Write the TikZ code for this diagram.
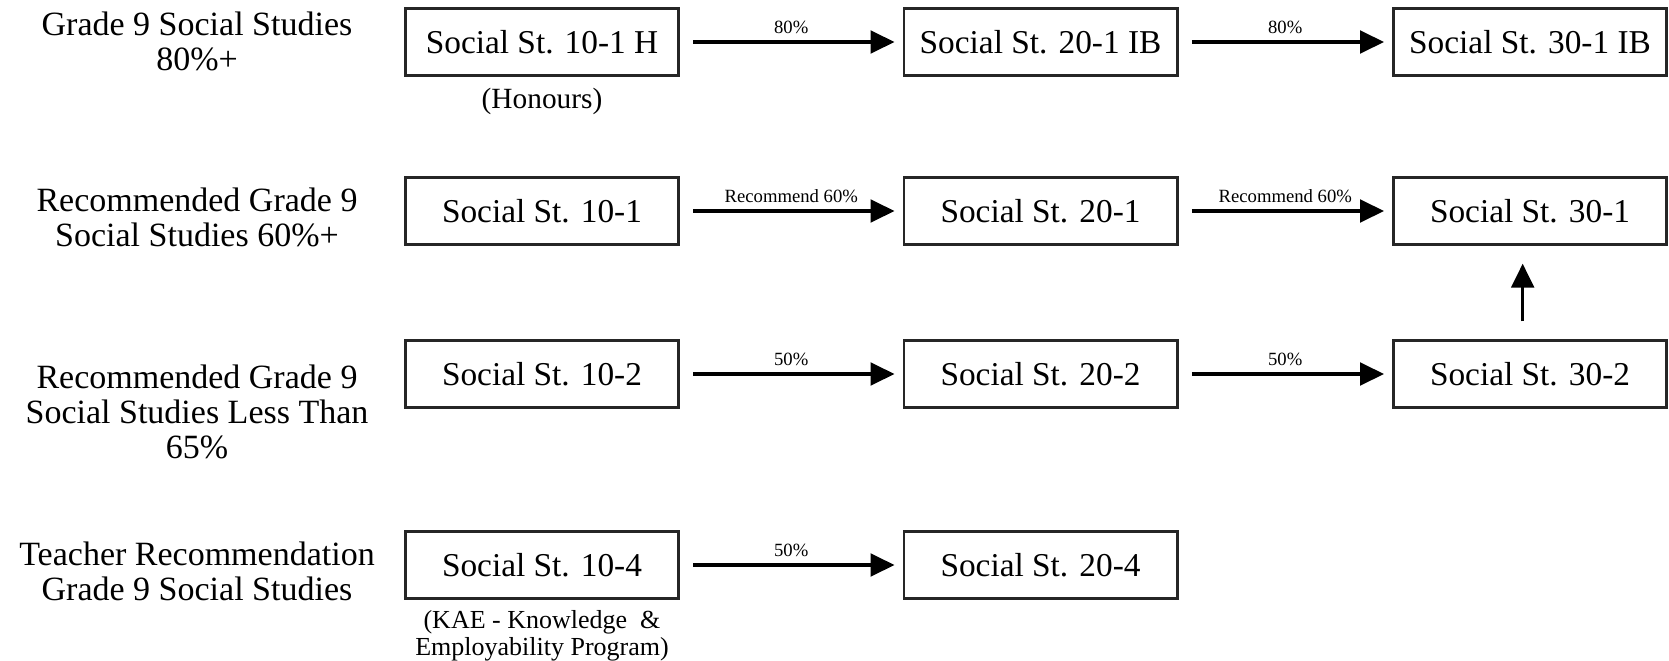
\documentclass[tikz,border=0pt]{standalone}
\usepackage{fontspec}
\setmainfont{Liberation Serif}
\usetikzlibrary{arrows.meta}
\tikzset{
  course/.style={draw=black!85, line width=2pt, minimum width=205pt, minimum height=50pt, inner sep=0pt, font=\fontsize{25}{30}\selectfont},
  rowlabel/.style={align=center, inner sep=0pt, font=\fontsize{25.5}{26.3}\selectfont},
  note/.style={align=center, inner sep=0pt},
  flow/.style={line width=2.4pt, -{Triangle[length=18pt,width=17pt]}, shorten <=10pt, shorten >=6pt},
  pct/.style={midway, above, inner sep=0pt, yshift=5pt, font=\fontsize{14}{16}\selectfont},
}
\begin{document}
\begin{tikzpicture}[x=0.75pt,y=-0.75pt]
\useasboundingbox (0,0) rectangle (1669,660);
% row labels
\node[rowlabel] (l1) at (197,41) {Grade 9 Social Studies\\80\%+};
\node[rowlabel] (l2) at (197,217) {Recommended Grade 9\\Social Studies 60\%+};
\node[rowlabel] (l3) at (197,412) {Recommended Grade 9\\Social Studies Less Than\\65\%};
\node[rowlabel] (l4) at (197,571) {Teacher Recommendation\\Grade 9 Social Studies};
% boxes
\node[course] (a1) at (542,42) {Social St. 10-1 H};
\node[course] (b1) at (1040.5,42) {Social St. 20-1 IB};
\node[course] (c1) at (1530,42) {Social St. 30-1 IB};
\node[course] (a2) at (542,211) {Social St. 10-1};
\node[course] (b2) at (1040.5,211) {Social St. 20-1};
\node[course] (c2) at (1530,211) {Social St. 30-1};
\node[course] (a3) at (542,374) {Social St. 10-2};
\node[course] (b3) at (1040.5,374) {Social St. 20-2};
\node[course] (c3) at (1530,374) {Social St. 30-2};
\node[course] (a4) at (542,565) {Social St. 10-4};
\node[course] (b4) at (1040.5,565) {Social St. 20-4};
% notes
\node[note, font=\fontsize{22}{24}\selectfont] (hon) at (542,101) {(Honours)};
\node[note, font=\fontsize{19.5}{20}\selectfont] (kae) at (542,635.5) {(KAE - Knowledge~~\&\\Employability Program)};
% arrows
\draw[flow] (a1) -- node[pct] {80\%} (b1);
\draw[flow] (b1) -- node[pct] {80\%} (c1);
\draw[flow] (a2) -- node[pct] {Recommend 60\%} (b2);
\draw[flow] (b2) -- node[pct] {Recommend 60\%} (c2);
\draw[flow] (a3) -- node[pct] {50\%} (b3);
\draw[flow] (b3) -- node[pct] {50\%} (c3);
\draw[flow] (a4) -- node[pct] {50\%} (b4);
\coordinate (up0) at ([xshift=-5.5pt]c3.north);
\coordinate (up1) at ([xshift=-5.5pt]c2.south);
\draw[flow, shorten <=13.5pt, shorten >=13.5pt] (up0) -- (up1);
\end{tikzpicture}
\end{document}
